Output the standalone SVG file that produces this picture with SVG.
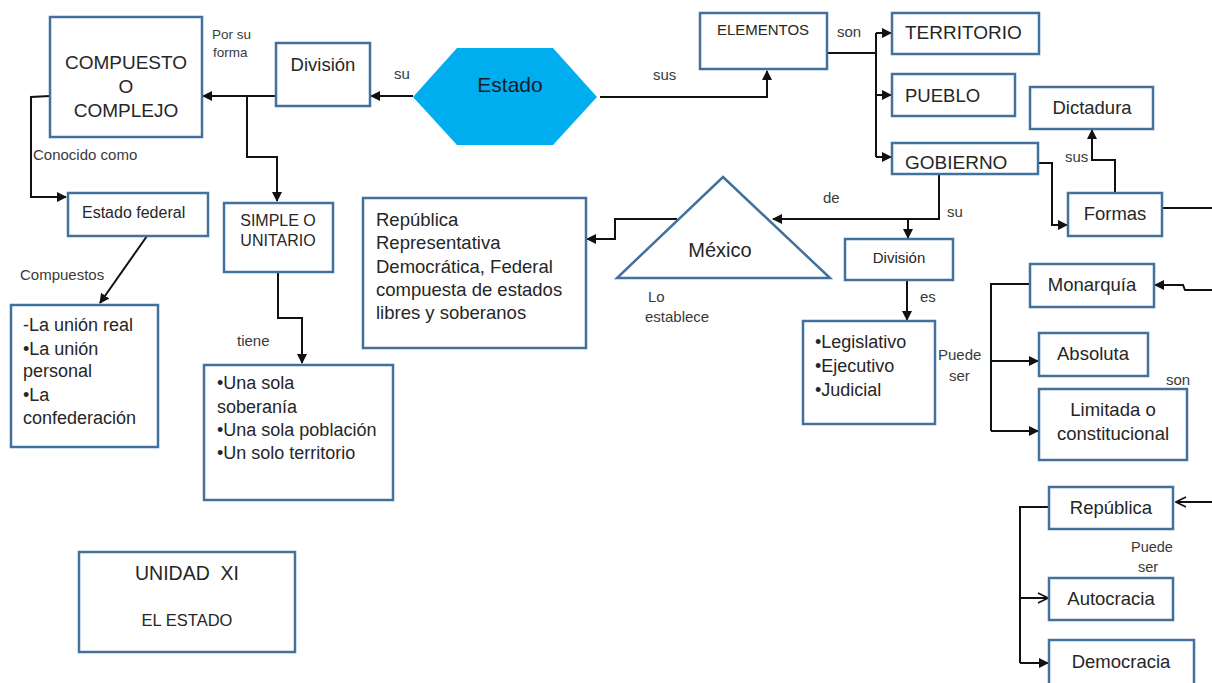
<svg xmlns="http://www.w3.org/2000/svg" width="1212" height="683" viewBox="0 0 1212 683">
<defs>
<style>
.box{fill:#fff;stroke:#41719C;stroke-width:2.5}
.t{font-family:"Liberation Sans",Arial,sans-serif;fill:#262626}
.c{text-anchor:middle}
.lbl{font-family:"Liberation Sans",Arial,sans-serif;fill:#3a3a3a;font-size:15px}
.ln{fill:none;stroke:#111;stroke-width:2}
.fa{marker-end:url(#arr)}
.oa{marker-end:url(#open)}
</style>
<marker id="arr" viewBox="0 0 10 10" refX="9" refY="5" markerWidth="10" markerHeight="10" markerUnits="userSpaceOnUse" orient="auto">
<path d="M0,0 L10,5 L0,10 z" fill="#111"/>
</marker>
<marker id="open" viewBox="0 0 12 12" refX="11" refY="6" markerWidth="12" markerHeight="12" markerUnits="userSpaceOnUse" orient="auto">
<path d="M1,1 L11,6 L1,11" fill="none" stroke="#111" stroke-width="1.6"/>
</marker>
</defs>
<rect width="1212" height="683" fill="#fff"/>

<g id="connectors">
<path class="ln fa" d="M413,96 H371"/>
<path class="ln fa" d="M276,96 H203"/>
<path class="ln fa" d="M247,96 V157 H277 V201"/>
<path class="ln fa" d="M50,96 L31,97 V197 H66"/>
<path class="ln fa" d="M147,236 L100,303"/>
<path class="ln fa" d="M278,272 V318 H302 V363"/>
<path class="ln fa" d="M600,97 H767 V71"/>
<path class="ln" d="M827,53 H876 M876,33 V157"/>
<path class="ln fa" d="M876,33 H891"/>
<path class="ln fa" d="M876,95 H891"/>
<path class="ln fa" d="M876,157 H891"/>
<path class="ln fa" d="M1038,163 H1052 V225 H1067"/>
<path class="ln fa" d="M1115,193 V160 H1092 V130"/>
<path class="ln" d="M1162,208 H1212"/>
<path class="ln fa" d="M1212,290 H1185 L1183,285 H1155"/>
<path class="ln oa" d="M1212,502 H1176"/>
<path class="ln fa" d="M939,174 V219 H773"/>
<path class="ln fa" d="M908,219 V238"/>
<path class="ln fa" d="M677,219 H615 V239 H587"/>
<path class="ln fa" d="M907,280 V320"/>
<path class="ln" d="M1030,284 H991 V431"/>
<path class="ln fa" d="M991,361 H1038"/>
<path class="ln fa" d="M991,431 H1038"/>
<path class="ln" d="M1049,507 H1020 V663"/>
<path class="ln oa" d="M1020,598 H1048"/>
<path class="ln fa" d="M1020,663 H1048"/>
</g>

<g id="labels">
<text class="lbl" x="212" y="39" style="font-size:13.5px">Por su</text>
<text class="lbl" x="213" y="57" style="font-size:13.5px">forma</text>
<text class="lbl" x="394" y="79">su</text>
<text class="lbl" x="33" y="160">Conocido como</text>
<text class="lbl" x="20" y="280">Compuestos</text>
<text class="lbl" x="237" y="346">tiene</text>
<text class="lbl" x="653" y="80">sus</text>
<text class="lbl" x="837" y="37">son</text>
<text class="lbl" x="1065" y="162">sus</text>
<text class="lbl" x="823" y="203">de</text>
<text class="lbl" x="947" y="217">su</text>
<text class="lbl" x="648" y="302">Lo</text>
<text class="lbl" x="645" y="322">establece</text>
<text class="lbl" x="920" y="302">es</text>
<text class="lbl" x="938" y="360">Puede</text>
<text class="lbl" x="949" y="381">ser</text>
<text class="lbl" x="1166" y="385">son</text>
<text class="lbl" x="1131" y="552" style="font-size:14.5px">Puede</text>
<text class="lbl" x="1138" y="572" style="font-size:14.5px">ser</text>
</g>

<g id="estado">
<polygon points="413,97 457,48 553,48 597,97 553,145 457,145" fill="#00AEEF"/>
<text class="t c" x="510" y="92" style="font-size:21px;fill:#1a1a2a">Estado</text>
</g>

<g id="compuesto">
<rect class="box" x="50" y="17" width="152" height="120"/>
<text class="t c" x="126" y="69" style="font-size:19px">COMPUESTO</text>
<text class="t c" x="126" y="93" style="font-size:19px">O</text>
<text class="t c" x="126" y="117" style="font-size:19px">COMPLEJO</text>
</g>

<g id="division1">
<rect class="box" x="276" y="43" width="94" height="63"/>
<text class="t c" x="323" y="71" style="font-size:18.5px">División</text>
</g>

<g id="estado-federal">
<rect class="box" x="68" y="193" width="140" height="43"/>
<text class="t" x="82" y="218" style="font-size:16px">Estado federal</text>
</g>

<g id="union">
<rect class="box" x="11" y="305" width="147" height="142"/>
<text class="t" x="23" y="331" style="font-size:18px">-La unión real</text>
<text class="t" x="23" y="355" style="font-size:18px">•La unión</text>
<text class="t" x="23" y="377" style="font-size:18px">personal</text>
<text class="t" x="23" y="401" style="font-size:18px">•La</text>
<text class="t" x="23" y="424" style="font-size:18px">confederación</text>
</g>

<g id="simple">
<rect class="box" x="224" y="203" width="109" height="69"/>
<text class="t c" x="278" y="226" style="font-size:16px">SIMPLE O</text>
<text class="t c" x="278" y="246" style="font-size:16px">UNITARIO</text>
</g>

<g id="una-sola">
<rect class="box" x="204" y="365" width="189" height="135"/>
<text class="t" x="217" y="389" style="font-size:18px">•Una sola</text>
<text class="t" x="217" y="413" style="font-size:18px">soberanía</text>
<text class="t" x="217" y="436" style="font-size:18px">•Una sola población</text>
<text class="t" x="217" y="459" style="font-size:18px">•Un solo territorio</text>
</g>

<g id="unidad">
<rect class="box" x="79" y="552" width="216" height="100"/>
<text class="t c" x="187" y="580" style="font-size:19.5px" xml:space="preserve">UNIDAD  XI</text>
<text class="t c" x="187" y="626" style="font-size:16.5px">EL ESTADO</text>
</g>

<g id="republica-mx">
<rect class="box" x="363" y="198" width="223" height="150"/>
<text class="t" x="376" y="226" style="font-size:18.5px">República</text>
<text class="t" x="376" y="249" style="font-size:18.5px">Representativa</text>
<text class="t" x="376" y="273" style="font-size:18.5px">Democrática, Federal</text>
<text class="t" x="376" y="296" style="font-size:18.5px">compuesta de estados</text>
<text class="t" x="376" y="319" style="font-size:18.5px">libres y soberanos</text>
</g>

<g id="mexico">
<polygon points="723,177 830,278 617,278" fill="#fff" stroke="#41719C" stroke-width="2.5"/>
<text class="t c" x="720" y="257" style="font-size:20px">México</text>
</g>

<g id="elementos">
<rect class="box" x="700" y="13" width="127" height="56"/>
<text class="t c" x="763" y="35" style="font-size:15px">ELEMENTOS</text>
</g>

<g id="territorio">
<rect class="box" x="892" y="13" width="147" height="41"/>
<text class="t" x="905" y="39" style="font-size:19px">TERRITORIO</text>
</g>

<g id="pueblo">
<rect class="box" x="892" y="74" width="123" height="42"/>
<text class="t" x="905" y="102" style="font-size:18.5px">PUEBLO</text>
</g>

<g id="gobierno">
<rect class="box" x="892" y="143" width="146" height="31"/>
<text class="t" x="905" y="169" style="font-size:19px">GOBIERNO</text>
</g>

<g id="dictadura">
<rect class="box" x="1030" y="87" width="123" height="42"/>
<text class="t c" x="1092" y="114" style="font-size:18.5px">Dictadura</text>
</g>

<g id="formas">
<rect class="box" x="1068" y="193" width="94" height="43"/>
<text class="t c" x="1115" y="220" style="font-size:18.5px">Formas</text>
</g>

<g id="division2">
<rect class="box" x="845" y="239" width="108" height="41"/>
<text class="t c" x="899" y="263" style="font-size:15px">División</text>
</g>

<g id="poderes">
<rect class="box" x="803" y="321" width="132" height="103"/>
<text class="t" x="815" y="348" style="font-size:18px">•Legislativo</text>
<text class="t" x="815" y="372" style="font-size:18px">•Ejecutivo</text>
<text class="t" x="815" y="396" style="font-size:18px">•Judicial</text>
</g>

<g id="monarquia">
<rect class="box" x="1030" y="264" width="124" height="43"/>
<text class="t c" x="1092" y="291" style="font-size:18.5px">Monarquía</text>
</g>

<g id="absoluta">
<rect class="box" x="1039" y="333" width="109" height="43"/>
<text class="t c" x="1093" y="360" style="font-size:18.5px">Absoluta</text>
</g>

<g id="limitada">
<rect class="box" x="1039" y="389" width="148" height="71"/>
<text class="t c" x="1113" y="416" style="font-size:18.5px">Limitada o</text>
<text class="t c" x="1113" y="440" style="font-size:18.5px">constitucional</text>
</g>

<g id="republica">
<rect class="box" x="1049" y="487" width="124" height="42"/>
<text class="t c" x="1111" y="514" style="font-size:18.5px">República</text>
</g>

<g id="autocracia">
<rect class="box" x="1049" y="578" width="124" height="42"/>
<text class="t c" x="1111" y="605" style="font-size:18.5px">Autocracia</text>
</g>

<g id="democracia">
<rect class="box" x="1049" y="640" width="145" height="50"/>
<text class="t c" x="1121" y="668" style="font-size:18.5px">Democracia</text>
</g>
</svg>
